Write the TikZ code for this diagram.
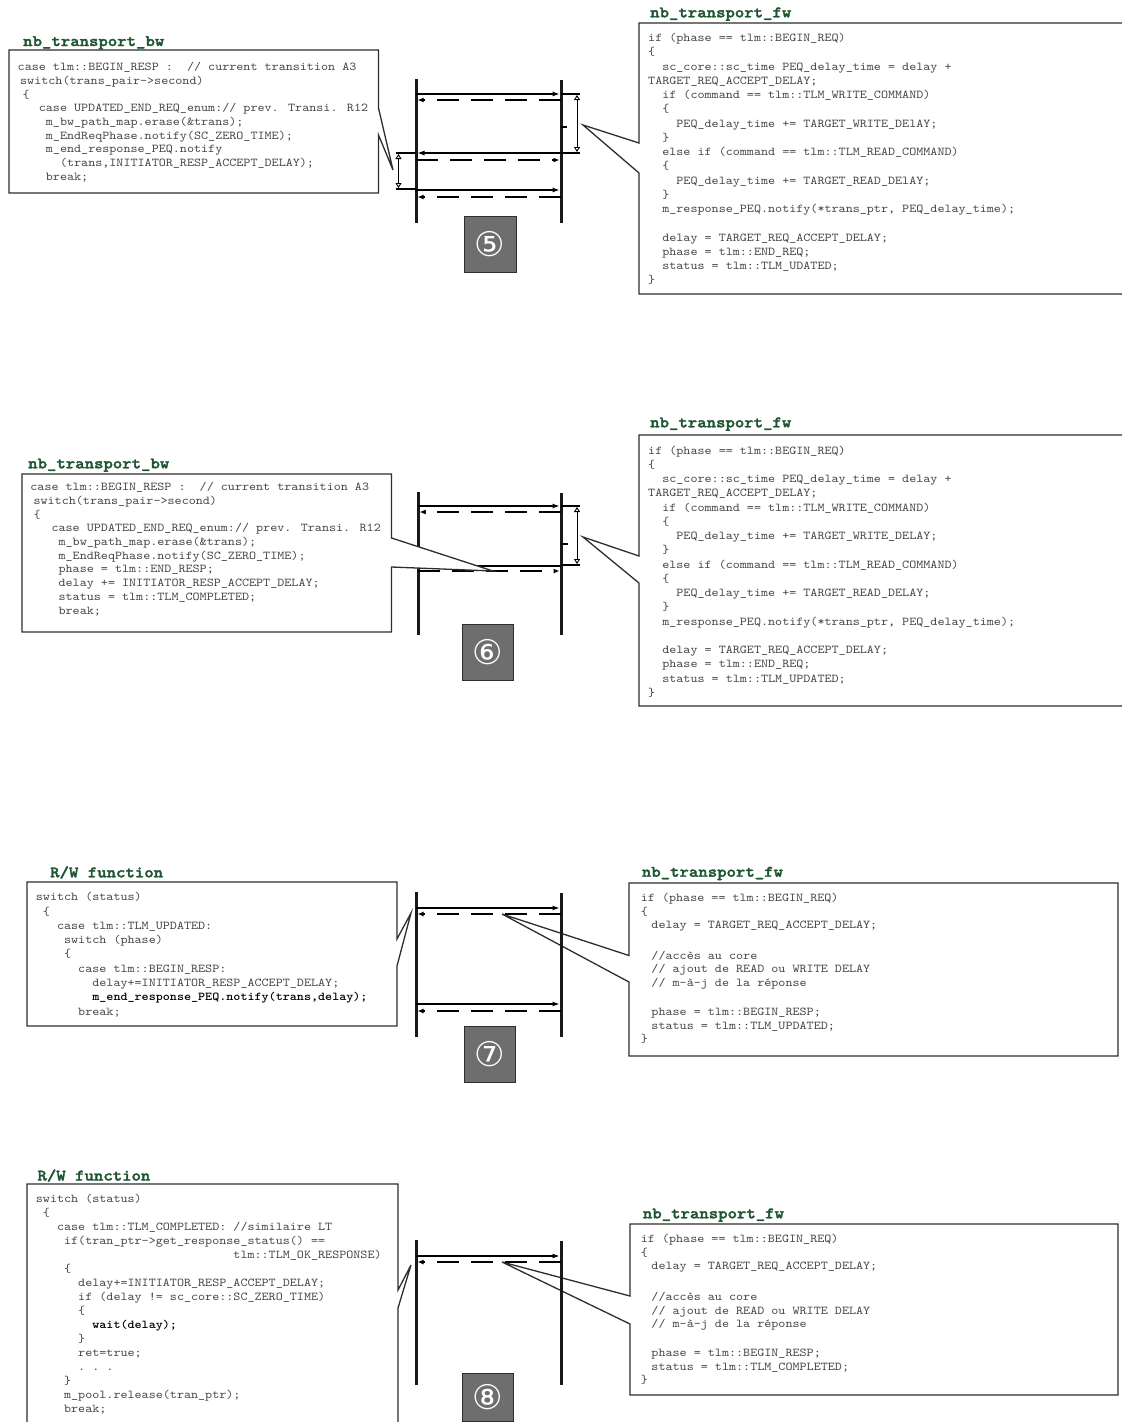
\documentclass[tikz,border=0pt]{standalone}
\usepackage{fontspec}
\usetikzlibrary{arrows.meta}
\newfontfamily\codefont{lmmono10-regular.otf}[FakeStretch=1.12,BoldFont=lmmonolt10-bold.otf]
\newfontfamily\titlefont{lmmonolt10-bold.otf}[FakeStretch=1.12,FakeBold=2]
\newfontfamily\symfont{DejaVu Sans}
\definecolor{titlegreen}{HTML}{1E5631}
\definecolor{codegray}{HTML}{454545}
\definecolor{framegray}{HTML}{2E2E2E}
\definecolor{numfill}{HTML}{6E6E6E}
\newdimen\chw \chw=7.056pt
\newcommand\codeln[2]{\hbox{\kern#1\chw\relax #2}}
\newcommand\codeblock[2]{\vtop{\codefont\fontsize{12}{#1}\selectfont\setbox0\hbox{0}\chw=\wd0\baselineskip=#1pt\lineskiplimit=-\maxdimen\lineskip=0pt\relax #2}}
\begin{document}
\begin{tikzpicture}[x=1pt,y=-1pt,
  title/.style={anchor=base west,inner sep=0pt,text=titlegreen,font=\titlefont\fontsize{16}{18}\selectfont},
  code/.style={anchor=base west,inner sep=0pt,text=codegray},
  box/.style={draw=framegray,line width=1.3pt,fill=white,line join=miter},
  life/.style={line width=3pt,draw=black!90},
  msg/.style={line width=1.1pt,shorten >=1.5pt,-{Latex[length=7pt,width=5pt]}},
  ret/.style={line width=2.5pt,dash pattern=on 22pt off 12pt,shorten >=1.5pt,-{Latex[length=6pt,width=5pt]}},
  stub/.style={line width=2.5pt},
  dbl/.style={line width=0.9pt,{Triangle[open,length=5pt,width=6pt]}-{Triangle[open,length=5pt,width=6pt]}},
  numbox/.style={draw=framegray,line width=1pt,fill=numfill},
  numtxt/.style={text=white,inner sep=0pt,font=\symfont\fontsize{34}{34}\selectfont}
]
\useasboundingbox (0,0) rectangle (1122,1422);
\fill[white] (0,0) rectangle (1122,1422);

%================ Panel 5 ================
\coordinate (L1t) at (416,79); \coordinate (L1b) at (416,223);
\coordinate (R1t) at (561,80); \coordinate (R1b) at (561,223);
\draw[life] (L1t) -- (L1b);
\draw[life] (R1t) -- (R1b);
\draw[msg] (L1t |- 0,94) -- (R1t |- 0,94);
\draw[ret] (R1t |- 0,100) -- (L1t |- 0,100);
\draw[msg] (R1t |- 0,153) -- (L1t |- 0,153);
\draw[ret] (L1t |- 0,160) -- (R1t |- 0,160);
\draw[msg] (L1t |- 0,190) -- (R1t |- 0,190);
\draw[ret] (R1t |- 0,197) -- (L1t |- 0,197);
\draw[stub] (R1t |- 0,94) -- (580,94);
\draw[stub] (R1t |- 0,153) -- (580,153);
\draw[dbl] (577,95) -- (577,152);
\draw[stub] (R1t |- 0,127) -- (567,127);
\draw[stub] (396,153) -- (L1t |- 0,153);
\draw[stub] (396,189) -- (L1t |- 0,189);
\draw[dbl] (398.5,154) -- (398.5,188);

\draw[box] (9,50) -- (378.5,50) -- (378.5,108) -- (393,170) -- (378.5,135) -- (378.5,193) -- (9,193) -- cycle;
\node[title] (t5a) at (23,46) {nb\_transport\_bw};
\node[code] (c5a) at (17.5,70.7) {\codeblock{13.67}{%
\codeln{0}{case tlm::BEGIN\_RESP :\ \ // current transition A3}
\codeln{0.35}{switch(trans\_pair->second)}
\codeln{0.7}{\{}
\codeln{3}{case UPDATED\_END\_REQ\_enum:// prev. Transi. R12}
\codeln{4}{m\_bw\_path\_map.erase(\&trans);}
\codeln{4}{m\_EndReqPhase.notify(SC\_ZERO\_TIME);}
\codeln{4}{m\_end\_response\_PEQ.notify}
\codeln{6}{(trans,INITIATOR\_RESP\_ACCEPT\_DELAY);}
\codeln{4}{break;}}};

\draw[box] (1135,23) -- (639,23) -- (639,143) -- (583,125) -- (639,173) -- (639,294) -- (1135,294);
\node[title] (t5b) at (650,17.3) {nb\_transport\_fw};
\node[code] (c5b) at (648,41.7) {\codeblock{14.25}{%
\codeln{0}{if (phase == tlm::BEGIN\_REQ)}
\codeln{0}{\{}
\codeln{2}{sc\_core::sc\_time PEQ\_delay\_time = delay +}
\codeln{0}{TARGET\_REQ\_ACCEPT\_DELAY;}
\codeln{2}{if (command == tlm::TLM\_WRITE\_COMMAND)}
\codeln{2}{\{}
\codeln{4}{PEQ\_delay\_time += TARGET\_WRITE\_DElAY;}
\codeln{2}{\}}
\codeln{2}{else if (command == tlm::TLM\_READ\_COMMAND)}
\codeln{2}{\{}
\codeln{4}{PEQ\_delay\_time += TARGET\_READ\_DElAY;}
\codeln{2}{\}}
\codeln{2}{m\_response\_PEQ.notify(*trans\_ptr, PEQ\_delay\_time);}
\vskip14.25pt
\codeln{2}{delay = TARGET\_REQ\_ACCEPT\_DELAY;}
\codeln{2}{phase = tlm::END\_REQ;}
\codeln{2}{status = tlm::TLM\_UDATED;}
\codeln{0}{\}}}};

\draw[numbox] (464,216) rectangle (516,272);
\node[numtxt] (n5) at (490,244) {⑤};

%================ Panel 6 ================
\coordinate (L2t) at (418,492); \coordinate (L2b) at (418,635);
\coordinate (R2t) at (561,493); \coordinate (R2b) at (561,635);
\draw[life] (L2t) -- (L2b);
\draw[life] (R2t) -- (R2b);
\draw[msg] (L2t |- 0,506) -- (R2t |- 0,506);
\draw[ret] (R2t |- 0,512) -- (L2t |- 0,512);
\draw[msg] (R2t |- 0,566) -- (L2t |- 0,566);
\draw[ret] (L2t |- 0,571) -- (R2t |- 0,571);
\draw[stub] (R2t |- 0,506) -- (580,506);
\draw[stub] (R2t |- 0,565) -- (580,565);
\draw[dbl] (577,507) -- (577,564);
\draw[stub] (R2t |- 0,544) -- (568,544);

\draw[box] (22,474) -- (391.5,474) -- (391.5,538) -- (493,571) -- (391.5,567) -- (391.5,632) -- (22,632) -- cycle;
\node[title] (t6a) at (28,468.3) {nb\_transport\_bw};
\node[code] (c6a) at (30.2,490.7) {\codeblock{13.7}{%
\codeln{0}{case tlm::BEGIN\_RESP :\ \ // current transition A3}
\codeln{0.45}{switch(trans\_pair->second)}
\codeln{0.45}{\{}
\codeln{3}{case UPDATED\_END\_REQ\_enum:// prev. Transi. R12}
\codeln{4}{m\_bw\_path\_map.erase(\&trans);}
\codeln{4}{m\_EndReqPhase.notify(SC\_ZERO\_TIME);}
\codeln{4}{phase = tlm::END\_RESP;}
\codeln{4}{delay += INITIATOR\_RESP\_ACCEPT\_DELAY;}
\codeln{4}{status = tlm::TLM\_COMPLETED;}
\codeln{4}{break;}}};

\draw[box] (1135,435) -- (639,435) -- (639,556) -- (583,537) -- (639,583) -- (639,706) -- (1135,706);
\node[title] (t6b) at (650,427.3) {nb\_transport\_fw};
\node[code] (c6b) at (648,454.1) {\codeblock{14.25}{%
\codeln{0}{if (phase == tlm::BEGIN\_REQ)}
\codeln{0}{\{}
\codeln{2}{sc\_core::sc\_time PEQ\_delay\_time = delay +}
\codeln{0}{TARGET\_REQ\_ACCEPT\_DELAY;}
\codeln{2}{if (command == tlm::TLM\_WRITE\_COMMAND)}
\codeln{2}{\{}
\codeln{4}{PEQ\_delay\_time += TARGET\_WRITE\_DELAY;}
\codeln{2}{\}}
\codeln{2}{else if (command == tlm::TLM\_READ\_COMMAND)}
\codeln{2}{\{}
\codeln{4}{PEQ\_delay\_time += TARGET\_READ\_DELAY;}
\codeln{2}{\}}
\codeln{2}{m\_response\_PEQ.notify(*trans\_ptr, PEQ\_delay\_time);}
\vskip14.25pt
\codeln{2}{delay = TARGET\_REQ\_ACCEPT\_DELAY;}
\codeln{2}{phase = tlm::END\_REQ;}
\codeln{2}{status = tlm::TLM\_UPDATED;}
\codeln{0}{\}}}};

\draw[numbox] (462,624) rectangle (513,680);
\node[numtxt] (n6) at (487.5,652) {⑥};

%================ Panel 7 ================
\draw[box] (27,882) -- (397,882) -- (397,939) -- (411,913) -- (397,966) -- (397,1026) -- (27,1026) -- cycle;
\node[title] (t7a) at (50,877.3) {R/W function};
\node[code] (c7a) at (35.7,900.7) {\codeblock{14.3}{%
\codeln{0}{switch (status)}
\codeln{1}{\{}
\codeln{3}{case tlm::TLM\_UPDATED:}
\codeln{4}{switch (phase)}
\codeln{4}{\{}
\codeln{6}{case tlm::BEGIN\_RESP:}
\codeln{8}{delay+=INITIATOR\_RESP\_ACCEPT\_DELAY;}
\codeln{8}{{\bfseries\color{black}m\_end\_response\_PEQ.notify(trans,delay);}}
\codeln{6}{break;}}};

\draw[box] (629,883) -- (1118,883) -- (1118,1056) -- (629,1056) -- (629,982) -- (502,914) -- (629,955.5) -- cycle;
\node[title] (t7b) at (641.7,876.7) {nb\_transport\_fw};
\node[code] (c7b) at (640.7,901.4) {\codeblock{13.6}{%
\codeln{0}{if (phase == tlm::BEGIN\_REQ)}
\codeln{0}{\{}
\codeln{1.5}{delay = TARGET\_REQ\_ACCEPT\_DELAY;}
\vskip17pt
\codeln{1.5}{//accès au core}
\codeln{1.5}{// ajout de READ ou WRITE DELAY}
\codeln{1.5}{// m-à-j de la réponse}
\vskip15.5pt
\codeln{1.5}{phase = tlm::BEGIN\_RESP;}
\codeln{1.5}{status = tlm::TLM\_UPDATED;}
\codeln{0}{\}}}};

\coordinate (L3t) at (416,892); \coordinate (L3b) at (416,1037);
\coordinate (R3t) at (561,893); \coordinate (R3b) at (561,1037);
\draw[life] (L3t) -- (L3b);
\draw[life] (R3t) -- (R3b);
\draw[msg] (L3t |- 0,908) -- (R3t |- 0,908);
\draw[ret] (R3t |- 0,914) -- (L3t |- 0,914);
\draw[msg] (L3t |- 0,1004) -- (R3t |- 0,1004);
\draw[ret] (R3t |- 0,1011) -- (L3t |- 0,1011);

\draw[numbox] (464,1026) rectangle (515.7,1082.7);
\node[numtxt] (n7) at (489.8,1054.3) {⑦};

%================ Panel 8 ================
\draw[box] (27,1184) -- (398,1184) -- (398,1290) -- (411,1265) -- (398,1308) -- (398,1440) -- (27,1440) -- cycle;
\node[title] (t8a) at (37.3,1180.5) {R/W function};
\node[code] (c8a) at (35.7,1202.7) {\codeblock{13.98}{%
\codeln{0}{switch (status)}
\codeln{1}{\{}
\codeln{3}{case tlm::TLM\_COMPLETED: //similaire LT}
\codeln{4}{if(tran\_ptr->get\_response\_status() ==}
\codeln{28}{tlm::TLM\_OK\_RESPONSE)}
\codeln{4}{\{}
\codeln{6}{delay+=INITIATOR\_RESP\_ACCEPT\_DELAY;}
\codeln{6}{if (delay != sc\_core::SC\_ZERO\_TIME)}
\codeln{6}{\{}
\codeln{8}{{\bfseries\color{black}wait(delay);}}
\codeln{6}{\}}
\codeln{6}{ret=true;}
\codeln{6}{.\ .\ .}
\codeln{4}{\}}
\codeln{4}{m\_pool.release(tran\_ptr);}
\codeln{4}{break;}}};

\draw[box] (630,1224) -- (1118,1224) -- (1118,1395) -- (630,1395) -- (630,1324) -- (502,1262) -- (630,1296) -- cycle;
\node[title] (t8b) at (642.7,1218.3) {nb\_transport\_fw};
\node[code] (c8b) at (640.7,1242.9) {\codeblock{13.5}{%
\codeln{0}{if (phase == tlm::BEGIN\_REQ)}
\codeln{0}{\{}
\codeln{1.5}{delay = TARGET\_REQ\_ACCEPT\_DELAY;}
\vskip17.5pt
\codeln{1.5}{//accès au core}
\codeln{1.5}{// ajout de READ ou WRITE DELAY}
\codeln{1.5}{// m-à-j de la réponse}
\vskip15.5pt
\codeln{1.5}{phase = tlm::BEGIN\_RESP;}
\codeln{1.5}{status = tlm::TLM\_COMPLETED;}
\codeln{0}{\}}}};

\coordinate (L4t) at (416,1240); \coordinate (L4b) at (416,1385);
\coordinate (R4t) at (561,1241); \coordinate (R4b) at (561,1385);
\draw[life] (L4t) -- (L4b);
\draw[life] (R4t) -- (R4b);
\draw[msg] (L4t |- 0,1256) -- (R4t |- 0,1256);
\draw[ret] (R4t |- 0,1262) -- (L4t |- 0,1262);

\draw[numbox] (462,1373) rectangle (513,1421);
\node[numtxt] (n8) at (487.5,1397) {⑧};
\end{tikzpicture}
\end{document}
